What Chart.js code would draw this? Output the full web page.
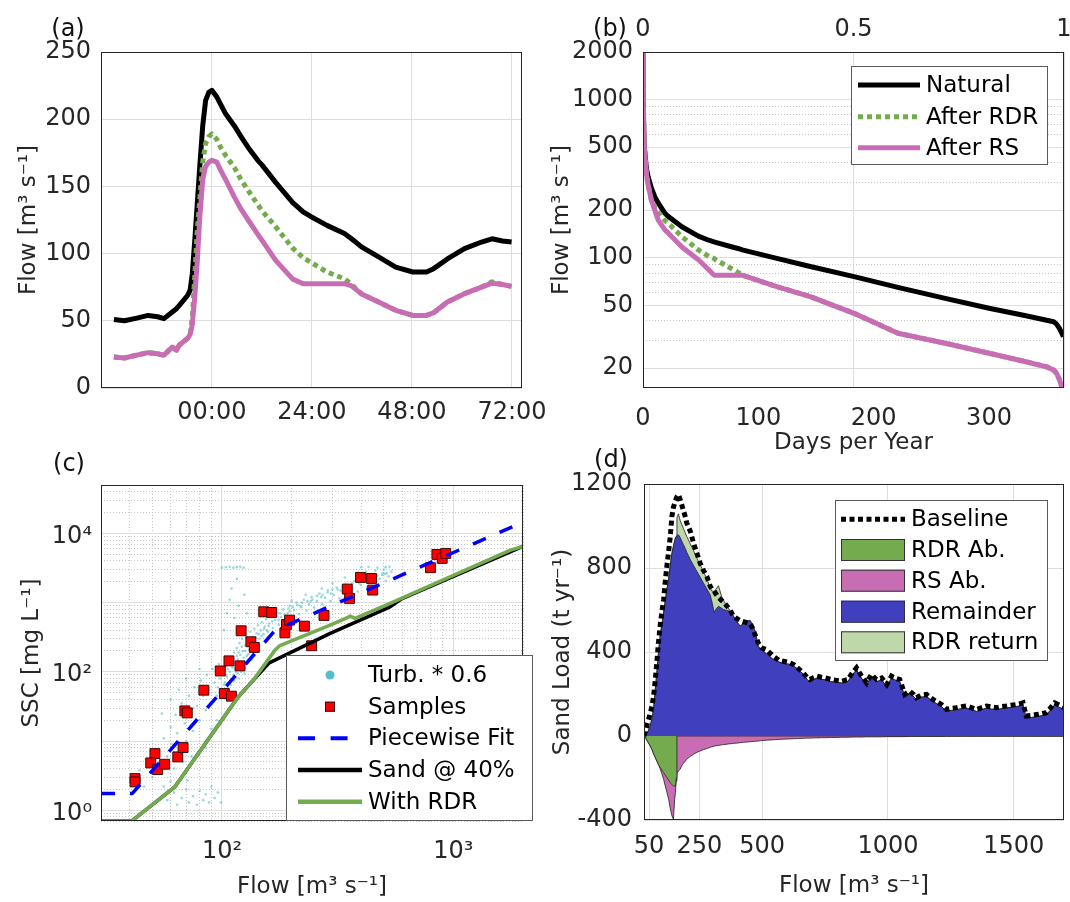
<!DOCTYPE html>
<html>
<head>
<meta charset="utf-8">
<script src="https://cdn.jsdelivr.net/npm/chart.js@4.4.1/dist/chart.umd.min.js"></script>
<style>
  body { margin: 0; background: #fff; }
  #page { position: relative; width: 1070px; height: 902px; overflow: hidden; background: #fff; }
  #page canvas { position: absolute; }
</style>
</head>
<body>
<div id="page">
  <canvas id="panelA" width="560" height="451" style="left:0;top:0;width:560px;height:451px"></canvas>
  <canvas id="panelB" width="540" height="470" style="left:535px;top:0;width:540px;height:470px"></canvas>
  <canvas id="panelC" width="540" height="462" style="left:0;top:440px;width:540px;height:462px"></canvas>
  <canvas id="panelD" width="540" height="462" style="left:535px;top:440px;width:540px;height:462px"></canvas>
</div>
<script>
// (a) storm hydrograph, hours from the peak
const hydroHours = [-23.5, -21, -18, -15.3, -13, -11.5, -9.5, -8.5, -7.8, -5.8, -5.2, -4.7, -4.1, -3.55, -2.9, -2.2, -1.5, -0.74, 0, 1.2, 2.1, 3.3, 5.4, 7, 8.7, 11.1, 12, 15.3, 19.4, 21.9, 23.5, 27.6, 31.8, 33.5, 35.9, 40, 44.1, 48.2, 51.5, 53.2, 56.5, 60.6, 64.7, 67.2, 69.7, 71.9];
const hydroNatural = [51, 50, 52, 54, 53, 51.6, 56.5, 59, 61.5, 69, 73, 85, 110, 135, 165, 195, 214, 220, 221.5, 216.5, 211, 204, 195, 187, 179, 169, 166, 153, 138, 131, 128, 121, 115, 111, 105, 97.5, 90, 86.3, 86.3, 88.8, 96, 103.7, 108.6, 111, 109.4, 108.6];
const hydroAfterRdr = [23, 22.3, 24.5, 26.3, 25.5, 24.3, 30.5, 28, 32, 37, 40, 52, 83, 115, 140, 168, 182, 187, 189, 185, 179, 173, 164, 155, 147, 136, 132, 120, 104, 97, 94, 86.3, 81.3, 77, 70, 64, 57.8, 54, 54, 56, 64, 70.2, 75, 79, 77, 75.6];
const hydroAfterRs = [23, 22.3, 24.5, 26.3, 25.5, 24.3, 30.5, 28, 32, 37, 40, 47, 68, 92, 127, 155, 165, 168, 169.4, 168, 162, 155, 142, 133, 125, 114, 110, 95, 81, 77.6, 77.6, 77.6, 77.6, 76, 70, 64, 57.8, 54, 54, 56, 64, 70.2, 75, 78, 77, 75.6];
const hourTicks = [0, 24, 48, 72];
const hourLabels = ['00:00', '24:00', '48:00', '72:00'];

// (b) flow duration curves
const durDays = [0, 0.3, 0.9, 2.9, 4.4, 7.3, 10.2, 13.2, 19, 22, 33.7, 48, 57, 61.5, 63, 79, 83.4, 86, 116, 145, 183, 221, 262, 300, 332, 350, 356, 358.5, 361, 363, 364.5];
const durNatural = [2000, 900, 527, 370, 325, 275, 243, 222, 191, 182, 157, 137, 129, 126, 125, 116, 114, 112, 99, 88, 76, 65, 55.3, 47.9, 43, 40.2, 39.4, 38, 35.8, 33.5, 31.7];
const durAfterRdr = [2000, 900, 527, 341, 290, 231, 210, 193, 172, 165, 136, 112, 102, 99, 97, 83.6, 80, 77.6, 65.6, 56.8, 44.5, 33.3, 28.8, 24.9, 22, 20.4, 19.5, 18.6, 17, 15.3, 14];
const durAfterRs = [2000, 900, 527, 341, 290, 231, 200, 173, 150, 143, 117, 97, 84, 77.6, 77.6, 77.6, 77.6, 77.6, 65.6, 56.8, 44.5, 33.3, 28.8, 24.9, 22, 20.4, 19.5, 18.6, 17, 15.3, 14];
const dayTicks = [0, 100, 200, 300];
const yearFracTicks = [0, 0.5, 1];
const durFlowTicks = [20, 50, 100, 200, 500, 1000, 2000];

// (c) suspended sediment rating
const turbFlow = [96, 98, 100, 101, 103, 104, 105, 106, 107, 108, 109, 110, 111, 112, 113, 114, 115, 116, 117, 118, 119, 120, 121, 122, 123, 124, 125, 126, 127, 128, 130, 131, 132, 134, 135, 136, 138, 139, 141, 143, 145, 147, 149, 151, 153, 155, 158, 160,
  163, 166, 170, 173, 176, 180, 184, 188, 192, 196, 200, 205, 210, 215, 220, 226, 232, 238, 244, 250, 257, 264, 271, 279, 287, 295, 304, 313, 322, 332, 342, 352, 363, 374, 386, 398, 410, 423, 437, 451, 465, 480, 495, 510, 525, 540, 300, 340, 380, 420, 460, 500, 270, 230, 200,
  100, 104, 108, 112, 116, 120, 124, 400, 430, 470, 510, 530,
  102, 105, 108, 110, 113, 116, 118, 125, 128,
  42, 44, 46, 48, 50, 52, 54, 56, 58, 60, 61, 63, 64, 66, 67, 69, 70, 72, 73, 75, 76, 78, 80, 81, 83, 85, 86, 88, 90, 91, 93, 95, 97, 55, 60, 65, 70, 75, 80, 85, 90, 95, 62, 68, 74,
  56, 58, 62, 64, 67, 70, 72, 75, 78, 80, 83, 85, 88, 90, 93, 96, 99, 60, 66, 71,
  99, 102, 104, 106, 108, 110, 112, 114, 116, 118, 120, 122, 124, 126, 128, 130, 133, 136, 140, 144, 148, 152, 156, 159, 105, 109, 113, 117, 121, 125, 129, 134, 138, 142,
  165, 172, 178, 186, 194, 202, 212, 222, 234, 246, 258, 272, 286, 300, 316, 332, 348, 366, 384, 404, 424, 446, 468, 492, 516, 176, 196, 218, 242, 268, 296, 326, 358, 392, 428, 466, 506];
const turbSsc = [60, 80, 55, 95, 70, 120, 85, 60, 140, 100, 75, 160, 115, 90, 190, 130, 100, 220, 150, 80, 260, 175, 120, 300, 200, 140, 95, 240, 330, 170, 280, 210, 380, 250, 160, 320, 420, 270, 360, 470, 300, 400, 520, 350, 450, 580, 380, 500,
  650, 430, 560, 720, 480, 620, 800, 540, 700, 900, 600, 780, 1000, 680, 860, 1100, 760, 950, 1200, 850, 1050, 1350, 950, 1180, 1500, 1050, 1300, 1650, 1150, 1450, 1850, 1300, 1600, 2050, 1450, 1800, 2250, 1650, 2000, 2450, 1850, 2200, 2650, 2050, 2400, 2800, 1900, 2300, 2600, 2800, 2900, 3000, 1600, 1300, 1050,
  3200, 3250, 3300, 3200, 3250, 3300, 3200, 3250, 3300, 3200, 3250, 3300,
  400, 700, 1100, 1600, 600, 2200, 900, 1300, 700,
  2.5, 3.8, 2.2, 5, 3, 7.5, 4, 11, 6, 16, 9, 24, 13, 7, 35, 18, 10, 45, 25, 14, 60, 32, 20, 75, 45, 28, 90, 55, 35, 110, 70, 45, 130, 25, 40, 55, 80, 30, 110, 8, 15, 20, 4, 5, 6,
  2.2, 1.4, 1.8, 1.2, 1.5, 2.0, 1.3, 1.6, 1.2, 1.9, 1.4, 1.7, 1.3, 2.2, 1.5, 1.8, 1.3, 2.6, 2.7, 2.7,
  45, 65, 90, 110, 70, 130, 150, 110, 170, 190, 140, 230, 160, 200, 260, 180, 290, 230, 310, 350, 330, 420, 400, 460, 50, 65, 75, 95, 100, 115, 135, 150, 170, 200,
  540, 640, 700, 680, 820, 860, 920, 1000, 1050, 1100, 1250, 1300, 1400, 1550, 1550, 1700, 1750, 1900, 2000, 2100, 2200, 2350, 2500, 2500, 2650, 560, 750, 900, 1050, 1200, 1350, 1500, 1700, 1900, 2150, 2400, 2600];
const sampleFlow = [42.1, 42.1, 51.3, 49.2, 52.7, 56.5, 64.4, 67.9, 69.1, 70.8, 83.5, 98.3, 102.4, 107.2, 109.8, 119.7, 121, 133.3, 138, 151.5, 164, 187, 190, 196, 227, 244, 276, 348, 356, 397, 443, 448, 796, 849, 895, 927];
const sampleSsc = [2.87, 2.57, 6.6, 4.83, 3.87, 4.62, 5.9, 8.05, 27.3, 25.5, 54.3, 103, 48.6, 144, 44.5, 122, 392, 272, 225, 737, 721, 366, 483, 558, 457, 238, 652, 1567, 1148, 2312, 2234, 1517, 3190, 4970, 4350, 5140];
const fitFlow = [30, 41, 170, 2000];
const fitSsc = [1.75, 1.75, 400, 14500];
const sandFlow = [30, 40.7, 62.6, 117.6, 136.7, 160, 293.6, 533, 600, 2000];
const sandSsc = [0.7, 0.7, 2.18, 43.6, 75.9, 135, 359, 869, 1140, 6500];
const withRdrFlow = [30, 40.7, 62.6, 117.6, 136.7, 169.5, 178, 293.6, 346, 358, 376, 533, 1766, 2000];
const withRdrSsc = [0.7, 0.7, 2.18, 43.6, 75.9, 206, 240, 473, 600, 638, 591, 973, 5740, 6500];
const sscTickLabels = { 1: '10\u2070', 100: '10\u00b2', 10000: '10\u2074' };
const rateFlowLabels = { 100: '10\u00b2', 1000: '10\u00b3' };

// (d) annual sand load by flow class
const loadFlow = [30, 33, 44, 55, 62, 68, 74, 81, 87, 94, 101, 108, 114, 121, 128, 134, 141, 147, 152, 155, 158, 161, 167, 174, 180, 187, 194, 200, 207, 214, 227, 240, 253, 266, 280, 293, 300, 309, 317, 326, 339, 346, 359, 372, 386, 398, 412, 425, 438, 452, 465, 472, 484, 497, 518, 544, 567, 584, 606, 624, 645, 663, 678, 690, 703, 717, 735, 749, 776, 796, 816, 841, 858, 875, 895, 915, 934, 954, 975, 995, 1014, 1031, 1047, 1067, 1086, 1100, 1113, 1133, 1153, 1179, 1199, 1213, 1233, 1253, 1272, 1292, 1312, 1332, 1352, 1372, 1392, 1412, 1431, 1451, 1471, 1491, 1511, 1530, 1537, 1550, 1570, 1590, 1610, 1630, 1644, 1663, 1700];
const loadBaseline = [0, 13, 60, 110, 143, 190, 257, 350, 440, 523, 590, 650, 730, 810, 880, 945, 1045, 1090, 1108, 1120, 1130, 1140, 1150, 1125, 1101, 1073, 1045, 1015, 995, 975, 919, 871, 824, 790, 760, 713, 700, 690, 675, 660, 645, 638, 620, 600, 570, 560, 550, 545, 540, 535, 507, 480, 444, 420, 410, 380, 360, 356, 350, 341, 320, 301, 280, 269, 278, 285, 280, 277, 269, 265, 261, 269, 300, 325, 285, 253, 293, 269, 277, 245, 285, 275, 269, 198, 214, 200, 182, 195, 198, 174, 160, 150, 127, 132, 135, 140, 143, 135, 127, 135, 143, 138, 135, 140, 143, 147, 150, 155, 158, 95, 98, 102, 106, 111, 130, 158, 135];
const loadRemainder = [0, 3, 16, 48, 85, 127, 210, 301, 390, 475, 530, 586, 640, 697, 750, 808, 870, 903, 930, 942, 950, 955, 958, 945, 928, 911, 893, 875, 858, 840, 812, 784, 757, 729, 700, 673, 640, 589, 605, 618, 608, 602, 598, 594, 570, 546, 523, 535, 546, 550, 520, 499, 428, 410, 390, 364, 352, 345, 342, 335, 315, 295, 270, 255, 268, 275, 270, 268, 258, 255, 252, 260, 290, 315, 275, 242, 283, 258, 267, 235, 275, 265, 258, 188, 204, 190, 172, 185, 188, 164, 150, 140, 117, 122, 125, 130, 133, 125, 117, 125, 133, 128, 125, 130, 133, 137, 140, 145, 148, 85, 88, 92, 96, 101, 120, 148, 125];
const loadRdrReturn = [0, 0, 0, 0, 0, 0, 0, 0, 0, 0, 0, 0, 0, 0, 0, 0, 0, 0, 0, 0, 0, 85, 100, 80, 80, 76, 75, 75, 75, 75, 70, 64, 59, 55, 48, 32, 50, 100, 95, 98, 55, 45, 20, 4, 0, 0, 0, 0, 0, 0, 0, 0, 0, 0, 0, 0, 0, 0, 0, 0, 0, 0, 0, 0, 0, 0, 0, 0, 0, 0, 0, 0, 0, 0, 0, 0, 0, 0, 0, 0, 0, 0, 0, 0, 0, 0, 0, 0, 0, 0, 0, 0, 0, 0, 0, 0, 0, 0, 0, 0, 0, 0, 0, 0, 0, 0, 0, 0, 0, 0, 0, 0, 0, 0, 0, 0, 0];
const loadRdrAb = [0, -3, -25, -48, -65, -85, -100, -119, -135, -150, -162, -174, -186, -198, -210, -222, -230, -238, -238, -238, -200, 0, 0, 0, 0, 0, 0, 0, 0, 0, 0, 0, 0, 0, 0, 0, 0, 0, 0, 0, 0, 0, 0, 0, 0, 0, 0, 0, 0, 0, 0, 0, 0, 0, 0, 0, 0, 0, 0, 0, 0, 0, 0, 0, 0, 0, 0, 0, 0, 0, 0, 0, 0, 0, 0, 0, 0, 0, 0, 0, 0, 0, 0, 0, 0, 0, 0, 0, 0, 0, 0, 0, 0, 0, 0, 0, 0, 0, 0, 0, 0, 0, 0, 0, 0, 0, 0, 0, 0, 0, 0, 0, 0, 0, 0, 0, 0];
const loadRsAb = [0, 0, 0, 0, 0, 0, 0, 0, 0, -5, -18, -32, -50, -70, -91, -120, -150, -158, -63, -31, -14, -180, -165, -158, -142, -130, -120, -111, -104, -97, -87, -78, -71, -65, -60, -54, -51, -48, -46, -45, -42, -41, -39, -37, -35, -34, -32, -30, -29, -27, -26, -25, -24, -22, -20, -18, -16, -15, -14, -13, -12, -11, -10, -10, -9, -9, -8, -8, -7, -7, -6, -6, -5, -5, -5, -4, -4, -4, -4, -3, -3, -3, -3, -3, -2, -2, -2, -2, -2, -2, -2, -2, -1.5, -1.5, -1.5, -1, -1, -1, -1, -1, -1, -1, -1, -1, -1, -1, -1, -1, -1, -1, -1, -1, -1, -1, -1, -1, -1];
const loadFlowTicks = [50, 250, 500, 1000, 1500];

const FONT = 'DejaVu Sans';
const INK = '#262626';
const GRID = '#dedede';
const MINOR = '#c6c6c6';
const GREEN = '#74ab4f';
const PINK = '#c86db4';
const BLUE_AREA = '#4040bf';
const LIGHT_GREEN = '#bed8aa';
const EDGE = '#1e1e1e';
const tickFont = { family: FONT, size: 24 };

Chart.defaults.font.family = FONT;

function xy(xs, ys) {
  return xs.map(function (x, i) { return { x: x, y: ys[i] }; });
}

// pin an axis box to a fixed thickness so the plot areas line up
function fixBox(size) {
  return function (scale) {
    if (scale.isHorizontal()) scale.height = size;
    else scale.width = size;
    scale.paddingLeft = 0;
    scale.paddingRight = 0;
    scale.paddingTop = 0;
    scale.paddingBottom = 0;
  };
}

function setTicks(values) {
  return function (scale) {
    scale.ticks = values.map(function (v) { return { value: v }; });
  };
}

// 1..9 multiples of each decade inside [lo, hi]
function logGrid(lo, hi) {
  const out = [];
  for (let e = Math.floor(Math.log10(lo)); e <= Math.ceil(Math.log10(hi)); e++) {
    for (let m = 1; m < 10; m++) {
      const v = Number((m * Math.pow(10, e)).toPrecision(6));
      if (v >= lo - 1e-9 && v <= hi + 1e-9) out.push(v);
    }
  }
  return out;
}

function isDecade(v) {
  const l = Math.log10(v);
  return Math.abs(l - Math.round(l)) < 1e-6;
}

function title(text, pad) {
  return { display: true, text: text, color: INK, font: { family: FONT, size: 23 }, padding: pad };
}

function tickOpts(pad, callback, extra) {
  const t = { font: tickFont, color: INK, padding: pad, autoSkip: false, maxRotation: 0, minRotation: 0 };
  if (callback) t.callback = callback;
  return Object.assign(t, extra || {});
}

function plain(v) { return String(v); }

function line(label, xs, ys, color, width, dash, order) {
  return {
    label: label, data: xy(xs, ys), borderColor: color, backgroundColor: color,
    borderWidth: width, borderDash: dash || [], order: order, fill: false,
    pointRadius: 0, tension: 0, borderJoinStyle: 'round'
  };
}

// panel letters, axes box and the boxed legends
const decor = {
  panelA: { letter: '(a)', lx: 68, ly: 30 },
  panelB: {
    letter: '(b)', lx: 75, ly: 30,
    legend: { x: 316, y: 66, w: 197, h: 99, x0: 323, x1: 385, tx: 391, rowY: [85, 116.7, 147.7],
      rows: [{ ds: 0, kind: 'line' }, { ds: 1, kind: 'line' }, { ds: 2, kind: 'line' }] }
  },
  panelC: {
    letter: '(c)', lx: 69, ly: 25,
    legend: { x: 286, y: 215, w: 247, h: 166, x0: 298, x1: 362, mx: 330, tx: 368, rowY: [235, 266.7, 298.3, 330, 361.7],
      rows: [{ ds: 0, kind: 'dot', color: '#52c0c6' }, { ds: 1, kind: 'square' },
        { ds: 2, kind: 'line', width: 4, dash: [17, 15.6] }, { ds: 3, kind: 'line', width: 4.5 }, { ds: 4, kind: 'line', width: 4.5 }] }
  },
  panelD: {
    letter: '(d)', lx: 76, ly: 21,
    legend: { x: 300, y: 60, w: 213, h: 161, x0: 306, x1: 370, tx: 376, rowY: [79.3, 110, 140.7, 171.7, 202.3],
      rows: [{ ds: 0, kind: 'line' }, { ds: 3, kind: 'patch' }, { ds: 4, kind: 'patch' }, { ds: 1, kind: 'patch' }, { ds: 2, kind: 'patch' }] }
  }
};

function drawLegend(chart, lg) {
  const ctx = chart.ctx;
  ctx.fillStyle = '#ffffff';
  ctx.fillRect(lg.x, lg.y, lg.w, lg.h);
  ctx.strokeStyle = '#5a5a5a';
  ctx.lineWidth = 1;
  ctx.setLineDash([]);
  ctx.strokeRect(lg.x + 0.5, lg.y + 0.5, lg.w - 1, lg.h - 1);
  lg.rows.forEach(function (row, i) {
    const ds = chart.data.datasets[row.ds];
    const y = lg.rowY[i];
    ctx.save();
    if (row.kind === 'line') {
      ctx.strokeStyle = ds.borderColor;
      ctx.lineWidth = row.width || ds.borderWidth;
      ctx.setLineDash(row.dash || ds.borderDash || []);
      ctx.beginPath();
      ctx.moveTo(lg.x0, y);
      ctx.lineTo(lg.x1, y);
      ctx.stroke();
    } else if (row.kind === 'patch') {
      ctx.fillStyle = ds.backgroundColor;
      ctx.fillRect(lg.x0, y - 11, lg.x1 - lg.x0, 22);
      ctx.strokeStyle = '#333333';
      ctx.lineWidth = 1;
      ctx.strokeRect(lg.x0 + 0.5, y - 10.5, lg.x1 - lg.x0 - 1, 21);
    } else if (row.kind === 'square') {
      ctx.fillStyle = ds.pointBackgroundColor;
      ctx.fillRect(lg.mx - 5, y - 5, 10, 10);
      ctx.strokeStyle = ds.pointBorderColor;
      ctx.lineWidth = 1;
      ctx.strokeRect(lg.mx - 4.5, y - 4.5, 9, 9);
    } else if (row.kind === 'dot') {
      ctx.fillStyle = row.color;
      ctx.beginPath();
      ctx.arc(lg.mx, y, 4.5, 0, Math.PI * 2);
      ctx.fill();
    }
    ctx.restore();
    ctx.fillStyle = '#000000';
    ctx.font = '23px "' + FONT + '"';
    ctx.textAlign = 'left';
    ctx.textBaseline = 'middle';
    ctx.fillText(ds.label, lg.tx, y + 1);
  });
}

const panelDecor = {
  id: 'panelDecor',
  afterDraw: function (chart) {
    const d = decor[chart.canvas.id];
    const ctx = chart.ctx;
    const a = chart.chartArea;
    ctx.save();
    ctx.setLineDash([]);
    ctx.strokeStyle = INK;
    ctx.lineWidth = 1;
    ctx.strokeRect(Math.round(a.left) + 0.5, Math.round(a.top) + 0.5,
      Math.round(a.right - a.left) - 1, Math.round(a.bottom - a.top) - 1);
    ctx.fillStyle = '#111111';
    ctx.font = '24px "' + FONT + '"';
    ctx.textAlign = 'center';
    ctx.textBaseline = 'middle';
    ctx.fillText(d.letter, d.lx, d.ly);
    if (d.legend) drawLegend(chart, d.legend);
    ctx.restore();
  }
};

function baseOptions(padding, scales) {
  return {
    responsive: false,
    animation: false,
    devicePixelRatio: 1,
    events: [],
    layout: { padding: padding },
    plugins: { legend: { display: false }, tooltip: { enabled: false } },
    scales: scales
  };
}

const flowTitle = 'Flow [m\u00b3 s\u207b\u00b9]';

// (a)
new Chart(document.getElementById('panelA'), {
  type: 'line',
  data: {
    datasets: [
      line('Natural', hydroHours, hydroNatural, '#000000', 5, null, 3),
      line('After RDR', hydroHours, hydroAfterRdr, GREEN, 5, [5, 4], 2),
      line('After RS', hydroHours, hydroAfterRs, PINK, 5, null, 1)
    ]
  },
  options: baseOptions({ left: 0, right: 38, top: 52, bottom: 0 }, {
    x: {
      type: 'linear', position: 'bottom', min: -26.6, max: 74.4,
      afterFit: fixBox(63), afterBuildTicks: setTicks(hourTicks),
      border: { display: false }, grid: { drawTicks: false, color: GRID },
      ticks: tickOpts(10, function (v) { return hourLabels[hourTicks.indexOf(v)]; })
    },
    y: {
      type: 'linear', position: 'left', min: 0, max: 250,
      afterFit: fixBox(101),
      border: { display: false }, grid: { drawTicks: false, color: GRID },
      ticks: tickOpts(10, plain, { stepSize: 50 }),
      title: title(flowTitle, { top: 15, bottom: 0 })
    }
  }),
  plugins: [panelDecor]
});

// (b)
new Chart(document.getElementById('panelB'), {
  type: 'line',
  data: {
    datasets: [
      line('Natural', durDays, durNatural, '#000000', 5, null, 3),
      line('After RDR', durDays, durAfterRdr, GREEN, 5, [5, 4], 2),
      line('After RS', durDays, durAfterRs, PINK, 5, null, 1)
    ]
  },
  options: baseOptions({ left: 0, right: 11, top: 0, bottom: 0 }, {
    x: {
      type: 'linear', position: 'bottom', min: 0, max: 365,
      afterFit: fixBox(82), afterBuildTicks: setTicks(dayTicks),
      border: { display: false }, grid: { display: false },
      ticks: tickOpts(8, plain),
      title: title('Days per Year', { top: 0, bottom: 13 })
    },
    xTop: {
      type: 'linear', position: 'top', min: 0, max: 1,
      afterFit: fixBox(52), afterBuildTicks: setTicks(yearFracTicks),
      border: { display: false }, grid: { drawTicks: false, color: GRID },
      ticks: tickOpts(8, plain)
    },
    y: {
      type: 'logarithmic', position: 'left', min: 15, max: 2000,
      afterFit: fixBox(108), afterBuildTicks: setTicks(logGrid(15, 2000)),
      border: { display: false, dash: function (c) { return c.tick && durFlowTicks.indexOf(c.tick.value) < 0 ? [1, 2] : []; } },
      grid: { drawTicks: false, color: function (c) { return c.tick && durFlowTicks.indexOf(c.tick.value) < 0 ? MINOR : GRID; } },
      ticks: tickOpts(10, function (v) { return durFlowTicks.indexOf(v) >= 0 ? String(v) : ''; }),
      title: title(flowTitle, { top: 13, bottom: 0 })
    }
  }),
  plugins: [panelDecor]
});

// (c)
new Chart(document.getElementById('panelC'), {
  type: 'line',
  data: {
    datasets: [
      { label: 'Turb. * 0.6', data: xy(turbFlow, turbSsc), showLine: false, pointRadius: 1.3,
        pointBackgroundColor: 'rgba(82,192,198,0.6)', pointBorderWidth: 0, order: 5 },
      { label: 'Samples', data: xy(sampleFlow, sampleSsc), showLine: false, pointStyle: 'rect', pointRadius: 7,
        pointBackgroundColor: '#ff0000', pointBorderColor: '#3c0a0a', pointBorderWidth: 1, order: 4 },
      line('Piecewise Fit', fitFlow, fitSsc, '#0000ff', 3.5, [14, 15], 3),
      line('Sand @ 40%', sandFlow, sandSsc, '#000000', 3.5, null, 2),
      line('With RDR', withRdrFlow, withRdrSsc, GREEN, 3.5, null, 1)
    ]
  },
  options: baseOptions({ left: 0, right: 17, top: 45, bottom: 0 }, {
    x: {
      type: 'logarithmic', position: 'bottom', min: 30, max: 2000,
      afterFit: fixBox(81), afterBuildTicks: setTicks(logGrid(30, 2000)),
      border: { display: false, dash: function (c) { return c.tick && !isDecade(c.tick.value) ? [1, 2] : []; } },
      grid: { drawTicks: false, color: function (c) { return c.tick && !isDecade(c.tick.value) ? MINOR : GRID; } },
      ticks: tickOpts(16, function (v) { return rateFlowLabels[v] || ''; }),
      title: title(flowTitle, { top: 0, bottom: 1 })
    },
    y: {
      type: 'logarithmic', position: 'left', min: 0.7, max: 50000,
      afterFit: fixBox(101), afterBuildTicks: setTicks(logGrid(0.7, 50000)),
      border: { display: false, dash: function (c) { return c.tick && !isDecade(c.tick.value) ? [1, 2] : []; } },
      grid: { drawTicks: false, color: function (c) { return c.tick && !isDecade(c.tick.value) ? MINOR : GRID; } },
      ticks: tickOpts(9, function (v) { return sscTickLabels[v] || ''; }, { labelOffset: 3 }),
      title: title('SSC [mg L\u207b\u00b9]', { top: 18, bottom: 0 })
    }
  }),
  plugins: [panelDecor]
});

// (d)
new Chart(document.getElementById('panelD'), {
  type: 'line',
  data: {
    datasets: [
      { label: 'Baseline', data: xy(loadFlow, loadBaseline), stack: 'base', borderColor: '#000000',
        borderWidth: 5, borderDash: [5, 3.5], fill: false, pointRadius: 0, order: 0 },
      { label: 'Remainder', data: xy(loadFlow, loadRemainder), stack: 'pos', borderColor: EDGE, borderWidth: 0.8,
        backgroundColor: BLUE_AREA, fill: 'origin', pointRadius: 0, order: 1 },
      { label: 'RDR return', data: xy(loadFlow, loadRdrReturn), stack: 'pos', borderColor: EDGE, borderWidth: 0.8,
        backgroundColor: LIGHT_GREEN, fill: '-1', pointRadius: 0, order: 1 },
      { label: 'RDR Ab.', data: xy(loadFlow, loadRdrAb), stack: 'neg', borderColor: EDGE, borderWidth: 0.8,
        backgroundColor: GREEN, fill: 'origin', pointRadius: 0, order: 1 },
      { label: 'RS Ab.', data: xy(loadFlow, loadRsAb), stack: 'neg', borderColor: EDGE, borderWidth: 0.8,
        backgroundColor: PINK, fill: '-1', pointRadius: 0, order: 1 }
    ]
  },
  options: baseOptions({ left: 0, right: 11, top: 44, bottom: 0 }, {
    x: {
      type: 'linear', position: 'bottom', min: 30, max: 1700,
      afterFit: fixBox(82), afterBuildTicks: setTicks(loadFlowTicks),
      border: { display: false }, grid: { drawTicks: false, color: GRID },
      ticks: tickOpts(12, plain),
      title: title(flowTitle, { top: 0, bottom: 2 })
    },
    y: {
      type: 'linear', position: 'left', min: -400, max: 1200, stacked: true,
      afterFit: fixBox(109),
      border: { display: false }, grid: { drawTicks: false, color: GRID },
      ticks: tickOpts(12, plain, { stepSize: 400 }),
      title: title('Sand Load (t yr\u207b\u00b9)', { top: 14, bottom: 0 })
    }
  }),
  plugins: [panelDecor]
});
</script>
</body>
</html>
